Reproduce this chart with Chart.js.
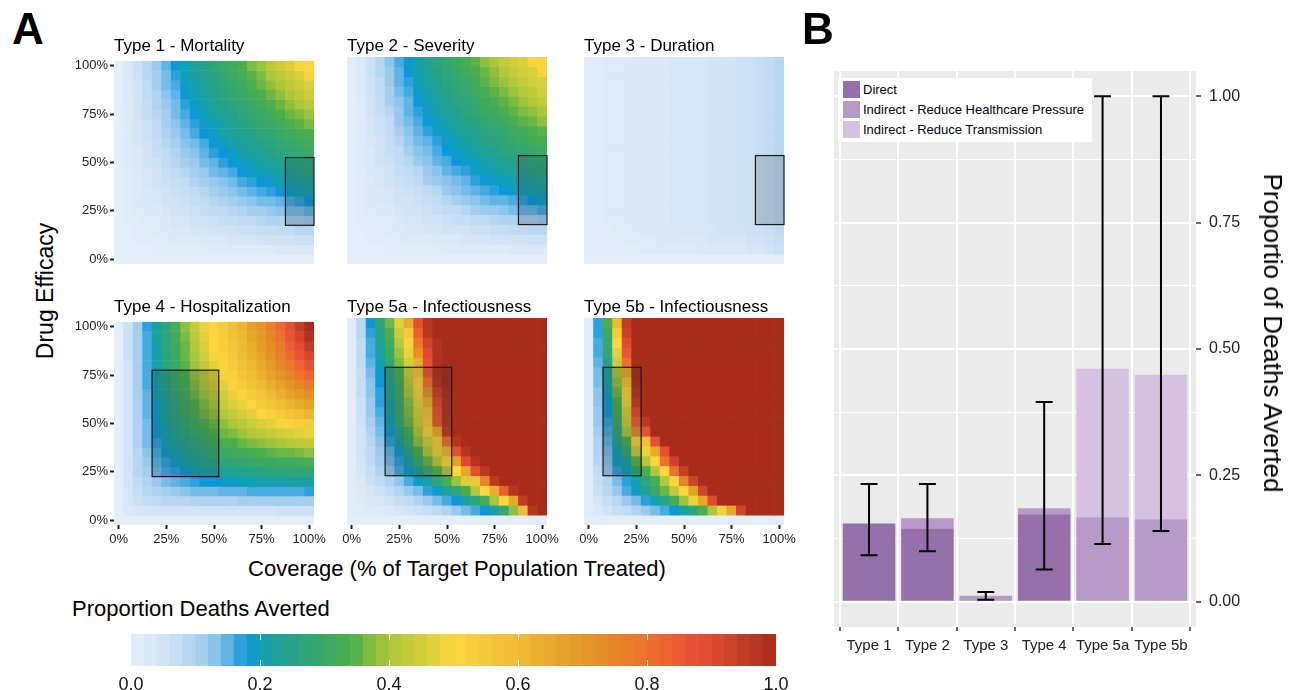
<!DOCTYPE html>
<html>
<head>
<meta charset="utf-8">
<title>Proportion of deaths averted by drug type</title>
<script src="https://cdn.jsdelivr.net/npm/chart.js@4.4.1/dist/chart.umd.min.js"></script>
<style>
  html, body { margin: 0; padding: 0; background: #fff; }
  body { position: relative; width: 1290px; height: 690px; overflow: hidden;
         font-family: "Liberation Sans", Arial, Helvetica, sans-serif; color: #000; }
  canvas { position: absolute; }
  .txt { position: absolute; white-space: nowrap; line-height: 1; }
  .sw { position: absolute; width: 17px; height: 17px; }
</style>
</head>
<body>
<canvas id="h1" width="270" height="243" style="left:64px;top:51px"></canvas>
<canvas id="h2" width="270" height="243" style="left:297px;top:51px"></canvas>
<canvas id="h3" width="270" height="243" style="left:534px;top:51px"></canvas>
<canvas id="h4" width="270" height="243" style="left:64px;top:312px"></canvas>
<canvas id="h5" width="270" height="243" style="left:297px;top:312px"></canvas>
<canvas id="h6" width="270" height="243" style="left:534px;top:312px"></canvas>
<canvas id="cbar" width="710" height="56" style="left:100px;top:634px"></canvas>
<canvas id="bars" width="470" height="640" style="left:800px;top:40px"></canvas>

<div class="txt" style="left:12px;top:7px;font-size:44px;font-weight:bold">A</div>
<div class="txt" style="left:802px;top:7px;font-size:44px;font-weight:bold">B</div>

<div class="txt" style="left:114px;top:37px;font-size:17px">Type 1 - Mortality</div>
<div class="txt" style="left:347px;top:37px;font-size:17px">Type 2 - Severity</div>
<div class="txt" style="left:584px;top:37px;font-size:17px">Type 3 - Duration</div>
<div class="txt" style="left:114px;top:298px;font-size:17px">Type 4 - Hospitalization</div>
<div class="txt" style="left:347px;top:298px;font-size:17px">Type 5a - Infectiousness</div>
<div class="txt" style="left:584px;top:298px;font-size:17px">Type 5b - Infectiousness</div>

<div class="txt" style="left:45px;top:291px;font-size:23px;transform:translate(-50%,-50%) rotate(-90deg)">Drug Efficacy</div>
<div class="txt" style="left:457px;top:558px;font-size:22px;transform:translateX(-50%)">Coverage (% of Target Population Treated)</div>
<div class="txt" style="left:72px;top:598px;font-size:22px">Proportion Deaths Averted</div>
<div class="txt" style="left:1273px;top:333px;font-size:26px;transform:translate(-50%,-50%) rotate(90deg)">Proportio of Deaths Averted</div>

<div style="position:absolute;left:838px;top:78px;width:254px;height:64px;background:#fff"></div>
<div class="sw" style="left:843px;top:81px;background:#9570ab"></div>
<div class="sw" style="left:843px;top:101px;background:#b89ac8"></div>
<div class="sw" style="left:843px;top:121px;background:#d5c2e0"></div>
<div class="txt" style="left:863px;top:83px;font-size:13px">Direct</div>
<div class="txt" style="left:863px;top:103px;font-size:13px">Indirect - Reduce Healthcare Pressure</div>
<div class="txt" style="left:863px;top:123px;font-size:13px">Indirect - Reduce Transmission</div>

<script>
// coverage (columns) and efficacy (rows, top to bottom) of the heatmaps, in %
const coverage = [0, 5, 10, 15, 20, 25, 30, 35, 40, 45, 50, 55, 60, 65, 70, 75, 80, 85, 90, 95, 100];
const efficacy = [100, 95, 90, 85, 80, 75, 70, 65, 60, 55, 50, 45, 40, 35, 30, 25, 20, 15, 10, 5, 0];
const pctTicks = [0, 25, 50, 75, 100];

// proportion of deaths averted, in %, one row per efficacy level
const type1 = [
  [0,3,6,9,12,15,18,20,23,25,27,30,32,34,37,39,42,44,46,49,51],
  [0,3,6,9,11,14,17,20,22,24,26,28,31,33,35,37,40,42,44,46,49],
  [0,3,5,8,11,14,16,19,21,23,25,27,29,31,34,36,38,40,42,44,46],
  [0,3,5,8,10,13,15,18,20,22,24,26,28,30,32,34,36,38,40,42,44],
  [0,2,5,7,10,12,14,17,19,21,23,25,26,28,30,32,34,36,38,40,42],
  [0,2,5,7,9,11,14,16,18,20,22,23,25,27,29,30,32,34,36,37,39],
  [0,2,4,6,8,11,13,15,17,19,20,22,24,25,27,29,30,32,34,35,37],
  [0,2,4,6,8,10,12,14,16,18,19,21,22,24,25,27,28,30,31,33,34],
  [0,2,4,5,7,9,11,13,14,16,18,19,21,22,24,25,26,28,29,31,32],
  [0,2,3,5,7,8,10,12,13,15,17,18,19,21,22,23,25,26,27,28,30],
  [0,2,3,5,6,8,9,11,12,14,15,17,18,19,20,22,23,24,25,26,27],
  [0,1,3,4,5,7,8,9,11,12,14,15,16,18,19,20,21,22,23,24,25],
  [0,1,2,4,5,6,7,8,10,11,12,13,14,16,17,18,19,20,21,22,23],
  [0,1,2,3,4,5,6,7,8,9,11,12,13,14,15,16,17,18,19,20,20],
  [0,1,2,3,4,5,5,6,7,8,9,10,11,12,13,14,14,15,16,17,18],
  [0,1,2,2,3,4,5,5,6,7,8,8,9,10,11,11,12,13,14,14,15],
  [0,1,1,2,2,3,4,4,5,5,6,7,7,8,8,9,10,10,11,11,12],
  [0,0,1,1,2,2,3,3,4,4,5,5,5,6,6,7,7,8,8,9,9],
  [0,0,1,1,1,2,2,2,2,3,3,3,4,4,4,5,5,5,5,6,6],
  [0,0,0,0,1,1,1,1,1,1,2,2,2,2,2,2,2,3,3,3,3],
  [0,0,0,0,0,0,0,0,0,0,0,0,0,0,0,0,0,0,0,0,0]
];
const type2 = [
  [0,3,6,9,13,16,19,21,24,26,28,31,33,35,38,40,43,45,46,49,51],
  [0,3,6,9,12,15,18,21,23,25,27,29,32,34,36,38,41,43,45,46,49],
  [0,3,5,8,12,15,17,20,22,24,26,28,30,32,35,37,39,41,43,45,46],
  [0,3,5,8,11,14,16,19,21,23,25,27,29,31,33,35,37,39,41,43,45],
  [0,2,5,7,11,13,15,18,20,22,24,26,27,29,31,33,35,37,39,41,43],
  [0,2,5,7,9,12,15,17,19,21,23,24,26,28,30,31,33,35,37,38,40],
  [0,2,4,6,8,12,14,16,18,20,21,23,25,26,28,30,31,33,35,36,38],
  [0,2,4,6,8,11,13,15,17,19,20,22,23,25,26,28,29,31,32,34,35],
  [0,2,4,5,7,9,12,14,15,17,19,20,22,23,25,26,27,29,30,32,33],
  [0,2,3,5,7,8,11,13,14,16,18,19,20,22,23,24,26,27,28,29,31],
  [0,2,3,5,6,8,9,12,13,15,16,18,19,20,21,23,24,25,26,27,28],
  [0,1,3,4,5,7,8,9,12,13,15,16,17,19,20,21,22,23,24,25,26],
  [0,1,2,4,5,6,7,8,11,12,13,14,15,17,18,19,20,21,22,23,24],
  [0,1,2,3,4,5,6,7,8,9,12,13,14,15,16,17,18,19,20,21,21],
  [0,1,2,3,4,5,5,6,7,8,9,11,12,13,14,15,15,16,17,18,19],
  [0,1,2,2,3,4,5,5,6,7,8,8,9,11,12,12,13,14,15,15,16],
  [0,1,1,2,2,3,4,4,5,5,6,7,7,8,8,9,10,10,11,11,12],
  [0,0,1,1,2,2,3,3,4,4,5,5,5,6,6,7,7,8,8,9,9],
  [0,0,1,1,1,2,2,2,2,3,3,3,4,4,4,5,5,5,5,6,6],
  [0,0,0,0,1,1,1,1,1,1,2,2,2,2,2,2,2,3,3,3,3],
  [0,0,0,0,0,0,0,0,0,0,0,0,0,0,0,0,0,0,0,0,0]
];
const type3 = [
  [1,1,2,2,2,3,3,3,3,4,4,4,4,5,5,5,6,6,7,8,9],
  [1,1,2,2,2,3,3,3,3,4,4,4,4,5,5,5,6,6,7,8,9],
  [1,1,2,2,2,3,3,3,3,4,4,4,4,5,5,5,6,6,7,8,9],
  [1,1,2,2,2,3,3,3,3,4,4,4,4,5,5,5,6,6,7,8,9],
  [1,1,2,2,2,3,3,3,3,4,4,4,4,5,5,5,6,6,7,8,9],
  [1,1,2,2,2,3,3,3,3,4,4,4,4,5,5,5,6,6,7,8,9],
  [1,1,2,2,2,3,3,3,3,4,4,4,4,5,5,5,6,6,7,8,9],
  [1,1,2,2,2,3,3,3,3,4,4,4,4,5,5,5,6,6,7,8,9],
  [1,1,2,2,2,3,3,3,3,4,4,4,4,5,5,5,6,6,7,8,9],
  [1,1,2,2,2,3,3,3,3,4,4,4,4,5,5,5,6,6,7,8,9],
  [1,1,2,2,2,3,3,3,3,4,4,4,4,5,5,5,6,6,7,8,9],
  [1,1,2,2,2,3,3,3,3,4,4,4,4,5,5,5,6,6,7,8,9],
  [1,1,2,2,2,3,3,3,3,4,4,4,4,5,5,5,6,6,7,8,9],
  [1,1,2,2,2,3,3,3,3,4,4,4,4,5,5,5,6,6,7,8,9],
  [1,1,2,2,2,3,3,3,3,4,4,4,4,5,5,5,6,6,7,8,9],
  [1,1,2,2,2,3,3,3,3,4,4,4,4,5,5,5,6,6,7,8,9],
  [1,1,2,2,2,3,3,3,3,4,4,4,4,5,5,5,6,6,7,8,9],
  [1,1,1,2,2,2,3,3,3,3,4,4,4,4,5,5,5,6,6,7,8],
  [1,1,1,1,2,2,2,2,3,3,3,3,3,4,4,4,4,5,5,6,7],
  [1,1,1,1,1,1,2,2,2,2,2,2,3,3,3,3,3,4,4,5,6],
  [0,0,0,0,0,0,0,0,0,0,0,0,0,0,0,0,0,0,0,0,0]
];
const type4 = [
  [0,6,11,17,22,27,33,38,43,48,51,54,58,62,67,71,76,82,87,94,100],
  [0,6,11,16,22,27,32,37,42,47,50,54,57,61,66,70,75,80,86,92,98],
  [0,6,11,16,21,27,31,36,41,46,50,53,56,60,64,69,73,78,84,89,95],
  [0,6,11,16,21,26,31,36,40,45,49,52,55,59,63,67,72,76,81,86,91],
  [0,5,11,16,21,26,30,35,39,43,47,51,54,58,61,65,69,74,78,83,88],
  [0,5,11,16,21,25,30,34,38,42,46,49,52,56,59,63,67,71,75,79,83],
  [0,5,11,16,20,25,29,33,37,41,44,47,51,54,57,60,64,67,71,75,79],
  [0,5,11,15,20,24,28,32,36,39,42,45,48,51,54,57,60,63,67,70,73],
  [0,5,10,15,19,23,27,31,34,37,40,43,46,48,51,54,56,59,62,65,68],
  [0,5,10,15,19,23,26,30,33,36,38,41,43,45,47,50,52,54,57,59,62],
  [0,5,10,14,18,22,25,28,31,34,36,38,40,42,44,46,47,49,51,53,55],
  [0,5,10,14,18,21,24,27,29,31,34,36,37,39,41,42,43,45,46,47,48],
  [0,5,10,14,17,20,23,25,27,29,31,33,34,36,37,38,39,40,41,42,43],
  [0,5,9,13,16,19,21,23,25,27,28,30,31,32,33,34,35,36,36,37,38],
  [0,5,9,12,15,17,19,21,23,24,25,26,27,28,29,30,30,31,31,32,33],
  [0,5,9,11,14,16,17,19,20,21,22,23,23,24,25,25,26,26,27,27,27],
  [0,5,8,10,12,14,15,16,17,18,18,19,19,20,20,21,21,21,21,22,22],
  [0,4,7,9,10,11,12,13,14,14,14,15,15,15,16,16,16,16,16,16,17],
  [0,4,6,7,8,9,9,9,10,10,10,10,10,11,11,11,11,11,11,11,11],
  [0,3,4,4,5,5,5,5,5,5,5,5,5,5,5,5,5,6,6,6,6],
  [0,0,0,0,0,0,0,0,0,0,0,0,0,0,0,0,0,0,0,0,0]
];
const type5a = [
  [1,9,18,27,36,47,64,88,97,100,100,100,100,100,100,100,100,100,100,100,100],
  [1,9,17,25,34,44,55,84,96,100,100,100,100,100,100,100,100,100,100,100,100],
  [1,8,16,23,32,41,51,78,92,98,100,100,100,100,100,100,100,100,100,100,100],
  [1,8,16,22,30,39,48,72,90,98,100,100,100,100,100,100,100,100,100,100,100],
  [1,8,15,21,28,37,45,64,88,98,100,100,100,100,100,100,100,100,100,100,100],
  [1,7,14,19,25,34,44,56,86,98,100,100,100,100,100,100,100,100,100,100,100],
  [1,7,13,18,24,32,42,52,80,97,100,100,100,100,100,100,100,100,100,100,100],
  [1,7,13,17,23,31,40,48,72,93,99,100,100,100,100,100,100,100,100,100,100],
  [1,6,12,17,22,30,38,47,64,90,98,100,100,100,100,100,100,100,100,100,100],
  [1,6,12,16,21,29,37,45,58,87,98,100,100,100,100,100,100,100,100,100,100],
  [1,6,11,15,20,28,36,44,55,85,97,100,100,100,100,100,100,100,100,100,100],
  [1,5,10,14,18,25,33,41,49,64,95,100,100,100,100,100,100,100,100,100,100],
  [1,5,9,13,17,22,30,38,45,54,80,97,100,100,100,100,100,100,100,100,100],
  [1,5,8,12,15,19,26,34,41,48,62,88,97,100,100,100,100,100,100,100,100],
  [1,4,8,11,14,17,22,29,36,43,50,68,90,97,100,100,100,100,100,100,100],
  [1,4,7,10,12,16,19,23,29,35,42,50,66,88,96,100,100,100,100,100,100],
  [1,3,6,8,10,13,16,19,22,27,33,39,46,56,75,96,100,100,100,100,100],
  [1,3,4,6,8,10,12,14,17,19,23,28,34,41,50,64,84,97,100,100,100],
  [1,2,3,4,5,7,8,10,12,14,16,18,22,27,33,40,50,66,95,100,100],
  [1,1,2,2,3,4,5,6,7,8,10,12,14,16,18,22,28,38,60,97,100],
  [0,0,0,0,0,0,0,0,0,0,0,0,0,0,0,0,0,0,0,0,0]
];
const type5b = [
  [1,17,34,60,95,100,100,100,100,100,100,100,100,100,100,100,100,100,100,100,100],
  [1,17,31,54,93,100,100,100,100,100,100,100,100,100,100,100,100,100,100,100,100],
  [1,16,29,50,90,100,100,100,100,100,100,100,100,100,100,100,100,100,100,100,100],
  [1,16,27,47,86,100,100,100,100,100,100,100,100,100,100,100,100,100,100,100,100],
  [1,15,25,44,80,100,100,100,100,100,100,100,100,100,100,100,100,100,100,100,100],
  [1,14,23,40,66,100,100,100,100,100,100,100,100,100,100,100,100,100,100,100,100],
  [1,14,21,38,58,99,100,100,100,100,100,100,100,100,100,100,100,100,100,100,100],
  [1,13,20,36,52,97,100,100,100,100,100,100,100,100,100,100,100,100,100,100,100],
  [1,13,19,34,48,94,100,100,100,100,100,100,100,100,100,100,100,100,100,100,100],
  [1,12,18,32,46,90,100,100,100,100,100,100,100,100,100,100,100,100,100,100,100],
  [1,12,17,30,44,84,96,100,100,100,100,100,100,100,100,100,100,100,100,100,100],
  [1,11,16,27,40,74,88,100,100,100,100,100,100,100,100,100,100,100,100,100,100],
  [1,10,15,24,34,52,58,88,100,100,100,100,100,100,100,100,100,100,100,100,100],
  [1,10,14,21,28,44,48,65,88,100,100,100,100,100,100,100,100,100,100,100,100],
  [1,9,13,19,23,35,41,50,80,93,100,100,100,100,100,100,100,100,100,100,100],
  [1,8,12,17,20,28,34,41,50,80,94,100,100,100,100,100,100,100,100,100,100],
  [1,7,10,14,17,21,27,33,41,50,76,93,100,100,100,100,100,100,100,100,100],
  [1,6,9,12,16,19,24,30,36,43,50,68,92,100,100,100,100,100,100,100,100],
  [1,4,7,9,12,14,17,21,26,33,39,48,66,90,100,100,100,100,100,100,100],
  [1,3,5,7,8,10,12,14,16,18,22,26,34,40,48,66,92,100,100,100,100],
  [0,0,0,0,0,0,0,0,0,0,0,0,0,0,0,0,0,0,0,0,0]
];

// highlighted ranges (coverage from/to, efficacy from/to)
const boxCoverage = [[87.5, 102.5], [87.5, 102.5], [87.5, 102.5], [17.5, 52.5], [17.5, 52.5], [7.5, 27.5]];
const boxEfficacy = [[17.5, 52.5], [17.5, 52.5], [17.5, 52.5], [22.5, 77.5], [22.5, 77.5], [22.5, 77.5]];

// panel B
const drugTypes = ['Type 1', 'Type 2', 'Type 3', 'Type 4', 'Type 5a', 'Type 5b'];
const direct = [0.155, 0.145, 0, 0.173, 0, 0];
const indirectHealthcare = [0, 0.02, 0.012, 0.012, 0.167, 0.163];
const indirectTransmission = [0, 0, 0, 0, 0.294, 0.286];
const errLow = [0.092, 0.10, 0.004, 0.064, 0.114, 0.14];
const errHigh = [0.233, 0.233, 0.019, 0.395, 1.0, 1.0];
const propTicks = [0, 0.125, 0.25, 0.375, 0.5, 0.625, 0.75, 0.875, 1.0];
const legendTicks = [0, 0.2, 0.4, 0.6, 0.8, 1.0];

const FONT = '"Liberation Sans", Arial, Helvetica, sans-serif';
Chart.defaults.font.family = FONT;

const stops = [
  [0.00,'#e4eef9'],[0.04,'#d6e6f6'],[0.08,'#c0dbf3'],[0.11,'#a6cfee'],[0.13,'#8cc5ec'],
  [0.15,'#5fb4e5'],[0.17,'#2ba2dd'],[0.18,'#0c98d6'],[0.20,'#10a0b6'],[0.22,'#1aa09f'],
  [0.25,'#27a287'],[0.28,'#33a773'],[0.31,'#3daa60'],[0.34,'#4aae4c'],[0.36,'#6cb644'],
  [0.38,'#8fbf3e'],[0.40,'#abc63b'],[0.43,'#c3cb3b'],[0.46,'#d8cf3b'],[0.48,'#ecd33c'],
  [0.50,'#fdd63d'],[0.55,'#f4c93a'],[0.60,'#eebb35'],[0.65,'#e7ab2d'],[0.70,'#e29a24'],
  [0.74,'#e48a24'],[0.78,'#ea7a2b'],[0.82,'#ee6930'],[0.86,'#e85535'],[0.90,'#df4a32'],
  [0.94,'#c63f28'],[1.00,'#a72d1a']
];
function hexRgb(h) {
  return [parseInt(h.slice(1, 3), 16), parseInt(h.slice(3, 5), 16), parseInt(h.slice(5, 7), 16)];
}
function colorAt(t) {
  t = Math.max(0, Math.min(1, t));
  for (let i = 1; i < stops.length; i++) {
    if (t <= stops[i][0]) {
      const [t0, c0] = stops[i - 1], [t1, c1] = stops[i];
      const f = (t - t0) / (t1 - t0), a = hexRgb(c0), b = hexRgb(c1);
      return 'rgb(' + a.map((v, k) => Math.round(v + (b[k] - v) * f)).join(',') + ')';
    }
  }
  return stops[stops.length - 1][1];
}

const boxPlugin = {
  id: 'box',
  afterDatasetsDraw(chart, args, opts) {
    const { ctx, scales: { x, y } } = chart;
    const x0 = x.getPixelForValue(opts.cov[0] / 5), x1 = x.getPixelForValue(opts.cov[1] / 5);
    const y0 = y.getPixelForValue(opts.eff[1]), y1 = y.getPixelForValue(opts.eff[0]);
    ctx.save();
    ctx.fillStyle = 'rgba(40,40,40,0.16)';
    ctx.fillRect(x0, y0, x1 - x0, y1 - y0);
    ctx.strokeStyle = '#1a1a1a';
    ctx.lineWidth = 1.2;
    ctx.strokeRect(x0, y0, x1 - x0, y1 - y0);
    ctx.restore();
  }
};

function heatmap(id, matrix, k, showY, showX) {
  const datasets = matrix.map((row, r) => ({
    data: row.map(() => [efficacy[r] - 2.5, efficacy[r] + 2.5]),
    backgroundColor: row.map(v => colorAt(v / 100)),
    grouped: false,
    barPercentage: 1,
    categoryPercentage: 1,
    borderWidth: 0
  }));
  new Chart(document.getElementById(id), {
    type: 'bar',
    data: { labels: coverage.map(String), datasets },
    options: {
      responsive: false,
      animation: false,
      events: [],
      layout: { padding: { left: 0, right: 20, top: 6, bottom: 0 } },
      plugins: {
        legend: { display: false },
        tooltip: { enabled: false },
        box: { cov: boxCoverage[k], eff: boxEfficacy[k] }
      },
      scales: {
        x: {
          offset: true,
          afterBuildTicks: s => { s.ticks = pctTicks.map(v => ({ value: coverage.indexOf(v) })); },
          afterFit: s => { s.height = 30; },
          border: { display: false },
          grid: { display: showX, offset: false, drawOnChartArea: false, tickLength: 4, tickWidth: 2, tickColor: '#222' },
          ticks: { display: showX, autoSkip: false, maxRotation: 0, padding: 3, color: '#222',
                   font: { size: 13 }, callback: v => coverage[v] + '%' }
        },
        y: {
          min: -2.5, max: 102.5,
          afterBuildTicks: s => { s.ticks = pctTicks.map(v => ({ value: v })); },
          afterFit: s => { s.width = 50; },
          border: { display: false },
          grid: { display: showY, drawOnChartArea: false, tickLength: 4, tickWidth: 2, tickColor: '#222' },
          ticks: { display: showY, padding: 2, color: '#222', font: { size: 13 }, callback: v => v + '%' }
        }
      }
    },
    plugins: [boxPlugin]
  });
}

heatmap('h1', type1, 0, true, false);
heatmap('h2', type2, 1, false, false);
heatmap('h3', type3, 2, false, false);
heatmap('h4', type4, 3, true, true);
heatmap('h5', type5a, 4, false, true);
heatmap('h6', type5b, 5, false, true);

// colour bar: 50 steps of the scale
const barSteps = [];
for (let i = 0; i < 50; i++) barSteps.push((i + 0.5) / 50);
const cbarTicks = {
  id: 'cbarTicks',
  afterDatasetsDraw(chart) {
    const { ctx, chartArea: a, scales: { x } } = chart;
    ctx.save();
    ctx.strokeStyle = '#fff';
    ctx.lineWidth = 1;
    [0.2, 0.4, 0.6, 0.8].forEach(v => {
      const px = Math.round(x.getPixelForValue(v)) + 0.5;
      ctx.beginPath();
      ctx.moveTo(px, a.top); ctx.lineTo(px, a.top + 6);
      ctx.moveTo(px, a.bottom - 6); ctx.lineTo(px, a.bottom);
      ctx.stroke();
    });
    ctx.restore();
  }
};
new Chart(document.getElementById('cbar'), {
  type: 'bar',
  data: { datasets: [{
    data: barSteps.map(v => ({ x: v, y: 1 })),
    backgroundColor: barSteps.map(colorAt),
    barPercentage: 1, categoryPercentage: 1, borderWidth: 0
  }] },
  options: {
    responsive: false, animation: false, events: [],
    layout: { padding: { left: 31, right: 34, top: 0, bottom: 0 } },
    plugins: { legend: { display: false }, tooltip: { enabled: false } },
    scales: {
      x: {
        type: 'linear', min: 0, max: 1, offset: false,
        afterBuildTicks: s => { s.ticks = legendTicks.map(v => ({ value: v })); },
        afterFit: s => { s.height = 24; },
        border: { display: false },
        grid: { display: false, drawTicks: false },
        ticks: { padding: 8, color: '#111', font: { size: 18 }, callback: v => v.toFixed(1) }
      },
      y: { display: false, min: 0, max: 1 }
    }
  },
  plugins: [cbarTicks]
});

// panel B
const panelBg = {
  id: 'panelBg',
  beforeDraw(chart) {
    const { ctx, chartArea: a } = chart;
    ctx.save();
    ctx.fillStyle = '#ebebeb';
    ctx.fillRect(a.left, a.top, a.width, a.height);
    ctx.restore();
  }
};
const errorBars = {
  id: 'errorBars',
  afterDatasetsDraw(chart) {
    const { ctx, scales: { x, y } } = chart;
    const half = x.getPixelForValue(1.145) - x.getPixelForValue(1);
    ctx.save();
    ctx.strokeStyle = '#000';
    ctx.lineWidth = 2;
    drugTypes.forEach((t, i) => {
      const px = x.getPixelForValue(i + 1);
      const top = y.getPixelForValue(errHigh[i]), bot = y.getPixelForValue(errLow[i]);
      ctx.beginPath();
      ctx.moveTo(px, top); ctx.lineTo(px, bot);
      ctx.moveTo(px - half, top); ctx.lineTo(px + half, top);
      ctx.moveTo(px - half, bot); ctx.lineTo(px + half, bot);
      ctx.stroke();
    });
    ctx.restore();
  }
};
const isMajor = v => Math.abs(v * 4 - Math.round(v * 4)) < 1e-6;
const series = (vals) => vals.map((v, i) => ({ x: i + 1, y: v }));

new Chart(document.getElementById('bars'), {
  type: 'bar',
  data: { datasets: [
    { label: 'Direct', data: series(direct), backgroundColor: '#9570ab' },
    { label: 'Indirect - Reduce Healthcare Pressure', data: series(indirectHealthcare), backgroundColor: '#b89ac8' },
    { label: 'Indirect - Reduce Transmission', data: series(indirectTransmission), backgroundColor: '#d5c2e0' }
  ] },
  options: {
    responsive: false, animation: false, events: [],
    layout: { padding: { left: 34, right: 0, top: 31, bottom: 13 } },
    datasets: { bar: { barPercentage: 0.9, categoryPercentage: 1, borderWidth: 0 } },
    plugins: { legend: { display: false }, tooltip: { enabled: false } },
    scales: {
      x: {
        type: 'linear', min: 0.4, max: 6.6, offset: false, stacked: true,
        afterBuildTicks: s => { s.ticks = drugTypes.map((t, i) => ({ value: i + 1 })); },
        afterFit: s => { s.height = 40; },
        border: { display: false },
        grid: { color: '#fff', lineWidth: 2, tickColor: '#333', tickLength: 4, tickWidth: 1.5 },
        ticks: { autoSkip: false, maxRotation: 0, padding: 6, color: '#222', font: { size: 15 },
                 callback: v => drugTypes[Math.round(v) - 1] }
      },
      y: {
        position: 'right', min: -0.05, max: 1.05, stacked: true,
        afterBuildTicks: s => { s.ticks = propTicks.map(v => ({ value: v })); },
        afterFit: s => { s.width = 74; },
        border: { display: false },
        grid: {
          color: '#fff',
          lineWidth: c => (c.tick && isMajor(c.tick.value) ? 2 : 1),
          tickColor: c => (c.tick && isMajor(c.tick.value) ? '#333' : 'rgba(0,0,0,0)'),
          tickLength: 5, tickWidth: 1.5
        },
        ticks: { padding: 8, color: '#222', font: { size: 16 },
                 callback: v => (isMajor(v) ? v.toFixed(2) : '') }
      }
    }
  },
  plugins: [panelBg, errorBars]
});
</script>
</body>
</html>
